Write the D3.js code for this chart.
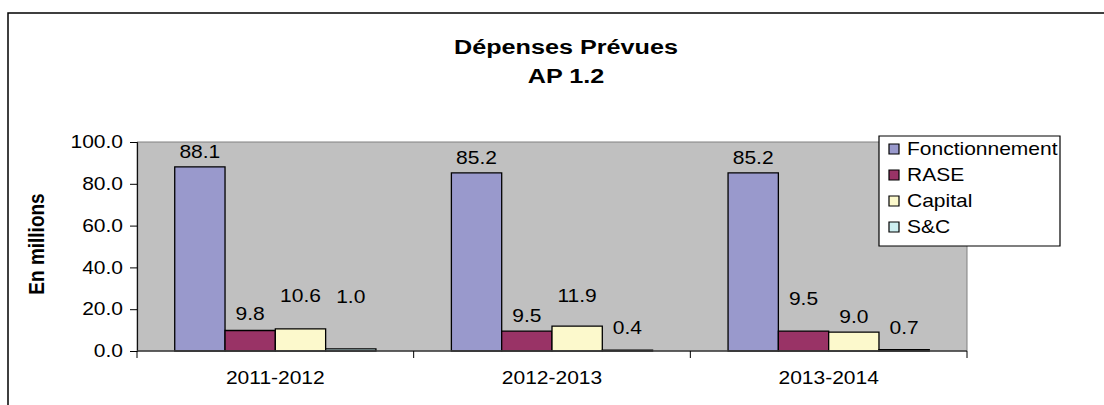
<!DOCTYPE html>
<html>
<head>
<meta charset="utf-8">
<script src="https://cdn.jsdelivr.net/npm/d3@7"></script>
<style>
  body { margin: 0; background: #fff; }
  svg text { font-family: "Liberation Sans", Arial, sans-serif; fill: #000; }
  .ns { vector-effect: non-scaling-stroke; }
</style>
</head>
<body>
<svg id="chart" width="1104" height="405"></svg>
<script>
var years = ["2011-2012", "2012-2013", "2013-2014"];
var seriesNames = ["Fonctionnement", "RASE", "Capital", "S&C"];
var fonctionnement = [88.1, 85.2, 85.2];
var rase = [9.8, 9.5, 9.5];
var capital = [10.6, 11.9, 9.0];
var sc = [1.0, 0.4, 0.7];
var yTicks = [0, 20, 40, 60, 80, 100];

var seriesValues = [fonctionnement, rase, capital, sc];
var colors = ["#9999cc", "#993366", "#fcf9cc", "#cceef0"];
// label nudges (px upward) to follow where the labels sit in the original
var labelNudge = [[0, 0, 0], [2, 0, 17], [18, 15, 0], [37, 7, 7]];

// the source picture is stretched sideways, so draw in a squeezed space
var SX = 1.2;
function px(x) { return x / SX; }

var svg = d3.select("#chart");
var g = svg.append("g").attr("transform", "scale(" + SX + ",1)");

var plot = {left: 137, right: 967, top: 142, bottom: 351};

// outer frame
g.append("rect").attr("class", "ns")
    .attr("x", px(8)).attr("y", 13)
    .attr("width", px(1200)).attr("height", 500)
    .attr("fill", "#fff").attr("stroke", "#000").attr("stroke-width", 1.5);

var x0 = d3.scaleBand().domain(years).range([px(plot.left), px(plot.right)]);
var bw = x0.bandwidth();
var inset = bw / 5.5 * 0.75;
var x1 = d3.scaleBand().domain(seriesNames).range([inset, bw - inset]);
var y = d3.scaleLinear().domain([0, 100]).range([plot.bottom, plot.top]);

// plot area
g.append("rect").attr("class", "ns")
    .attr("x", px(plot.left)).attr("y", plot.top)
    .attr("width", px(plot.right - plot.left)).attr("height", plot.bottom - plot.top)
    .attr("fill", "#c0c0c0").attr("stroke", "#808080").attr("stroke-width", 1);

// bars
seriesNames.forEach(function(name, s) {
    g.selectAll(null).data(seriesValues[s]).enter().append("rect")
        .attr("class", "ns")
        .attr("x", function(d, i) { return x0(years[i]) + x1(name); })
        .attr("y", function(d) { return y(d); })
        .attr("width", x1.bandwidth())
        .attr("height", function(d) { return y(0) - y(d); })
        .attr("fill", colors[s])
        .attr("stroke", "#000").attr("stroke-width", 1.3);
});

// value labels
seriesNames.forEach(function(name, s) {
    g.selectAll(null).data(seriesValues[s]).enter().append("text")
        .attr("x", function(d, i) { return x0(years[i]) + x1(name) + x1.bandwidth() / 2; })
        .attr("y", function(d, i) { return y(d) - 15 - labelNudge[s][i] + 6; })
        .attr("text-anchor", "middle")
        .style("font-size", "17.5px")
        .text(function(d) { return d.toFixed(1); });
});

// y axis
var yAxis = g.append("g").attr("transform", "translate(" + px(plot.left) + ",0)")
    .call(d3.axisLeft(y).tickValues(yTicks).tickSize(px(7)).tickPadding(px(7))
        .tickFormat(d3.format(".1f")));
yAxis.selectAll("line, path").attr("class", "ns").attr("stroke", "#000");
yAxis.select(".domain").attr("d", "M0," + plot.top + "V" + plot.bottom);
yAxis.selectAll("text").style("font-size", "17.5px").attr("fill", "#000");

// x axis
var xAxisG = g.append("g");
xAxisG.append("line").attr("class", "ns")
    .attr("x1", px(plot.left)).attr("x2", px(plot.right))
    .attr("y1", plot.bottom).attr("y2", plot.bottom)
    .attr("stroke", "#404040").attr("stroke-width", 1.3);
var bounds = years.map(function(d) { return x0(d); }).concat([x0(years[2]) + bw]);
xAxisG.selectAll(".tk").data(bounds).enter().append("line").attr("class", "ns")
    .attr("x1", function(d) { return d; }).attr("x2", function(d) { return d; })
    .attr("y1", plot.bottom).attr("y2", plot.bottom + 7)
    .attr("stroke", "#000");
xAxisG.selectAll(".cl").data(years).enter().append("text")
    .attr("x", function(d) { return x0(d) + bw / 2; })
    .attr("y", 384)
    .attr("text-anchor", "middle")
    .style("font-size", "17.5px")
    .text(function(d) { return d; });

// y title
g.append("text")
    .attr("transform", "translate(" + px(44) + ",244) rotate(-90)")
    .attr("text-anchor", "middle")
    .style("font-size", "19px").style("font-weight", "bold")
    .text("En millions");

// title
var title = g.append("text").attr("text-anchor", "middle")
    .style("font-size", "21px").style("font-weight", "bold");
title.append("tspan").attr("x", px(566)).attr("y", 54).text("Dépenses Prévues");
title.append("tspan").attr("x", px(566)).attr("y", 83).text("AP 1.2");

// legend
var leg = g.append("g");
leg.append("rect").attr("class", "ns")
    .attr("x", px(879)).attr("y", 136)
    .attr("width", px(1060 - 879)).attr("height", 110)
    .attr("fill", "#fff").attr("stroke", "#000").attr("stroke-width", 1.2);
seriesNames.forEach(function(name, s) {
    var cy = 149 + s * 26;
    leg.append("rect").attr("class", "ns")
        .attr("x", px(889)).attr("y", cy - 5)
        .attr("width", px(10)).attr("height", 10)
        .attr("fill", colors[s]).attr("stroke", "#000").attr("stroke-width", 1.2);
    leg.append("text")
        .attr("x", px(907)).attr("y", cy + 6)
        .style("font-size", "17.5px")
        .text(name);
});
</script>
</body>
</html>
